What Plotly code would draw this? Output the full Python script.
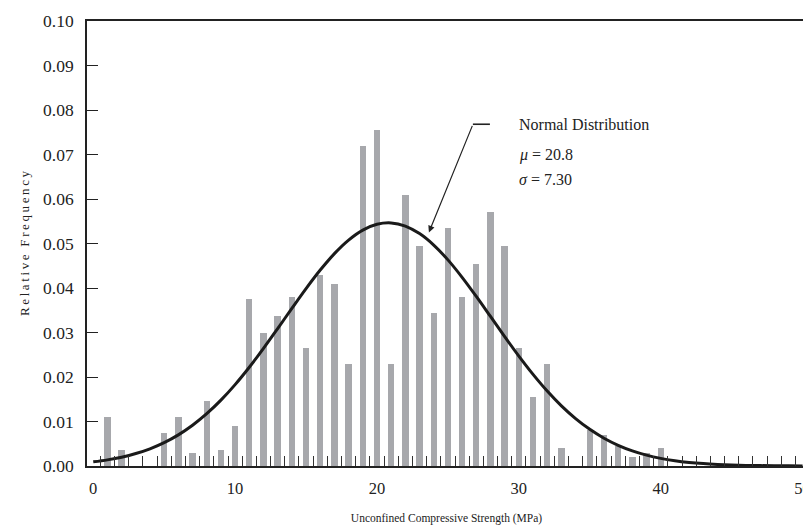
import plotly.graph_objects as go

# ---- data -----------------------------------------------------------------
strength_mpa = list(range(0, 51))  # bin centres (MPa)
rel_freq = [
    0.0, 0.011, 0.0037, 0.0, 0.0, 0.0074, 0.011, 0.003, 0.0147, 0.0037,
    0.009, 0.0375, 0.030, 0.0338, 0.038, 0.0265, 0.043, 0.041, 0.023, 0.0718,
    0.0755, 0.023, 0.061, 0.0495, 0.0344, 0.0535, 0.038, 0.0453, 0.057, 0.0495,
    0.0265, 0.0156, 0.023, 0.004, 0.0, 0.008, 0.007, 0.0045, 0.002, 0.003,
    0.004, 0.0, 0.0, 0.0, 0.0, 0.0, 0.0, 0.0, 0.0, 0.0, 0.0,
]
# normal-distribution curve (mu = 20.8, sigma = 7.30)
normal_curve = [
    0.00094, 0.00138, 0.00198, 0.00280, 0.00387, 0.00525, 0.00700, 0.00916,
    0.01175, 0.01480, 0.01829, 0.02219, 0.02643, 0.03088, 0.03541, 0.03986,
    0.04403, 0.04773, 0.05077, 0.05302, 0.05432, 0.05463, 0.05392, 0.05222,
    0.04964, 0.04632, 0.04240, 0.03810, 0.03360, 0.02908, 0.02470, 0.02059,
    0.01684, 0.01352, 0.01066, 0.00824, 0.00625, 0.00466, 0.00340, 0.00244,
    0.00172, 0.00119, 0.00081, 0.00054, 0.00035, 0.00022, 0.00014, 0.00009,
    0.00005, 0.00003, 0.00002,
]
x_tick_vals = [0, 10, 20, 30, 40, 50]
y_tick_vals = [0.00, 0.01, 0.02, 0.03, 0.04, 0.05, 0.06, 0.07, 0.08, 0.09, 0.10]
bin_edges = [i + 0.5 for i in range(0, 50)]

FONT = "Liberation Serif"
TXT = "#222222"
TS = "\u2009"  # thin space used for the letter-spaced y title
y_title = TS.join("Relative") + TS * 3 + TS.join("Frequency")

fig = go.Figure()
fig.add_trace(go.Bar(
    x=strength_mpa, y=rel_freq, width=0.45,
    marker=dict(color="#a7a8ac", line=dict(width=0)),
    showlegend=False, hoverinfo="x+y",
))
fig.add_trace(go.Scatter(
    x=strength_mpa, y=normal_curve, mode="lines",
    line=dict(color="#1a1a1a", width=3, shape="spline"),
    showlegend=False,
))

# the page body adds an 8px offset; margins compensate for it
fig.update_layout(
    width=811, height=531,
    margin=dict(l=79, r=13, t=13, b=73),
    paper_bgcolor="white", plot_bgcolor="white",
    font=dict(family=FONT, color=TXT, size=14),
    bargap=0,
)
fig.update_xaxes(
    range=[-0.44, 50.24], automargin=False,
    tickmode="array", tickvals=x_tick_vals,
    ticks="", showgrid=False, zeroline=False, ticklabelstandoff=6,
    showline=True, linecolor="#222222", linewidth=1.6, mirror=True,
    tickfont=dict(family=FONT, size=16.5, color=TXT),
    minor=dict(tickmode="array", tickvals=bin_edges, ticks="inside",
               ticklen=10, tickwidth=1.4, tickcolor="#333333", showgrid=False),
    title=dict(text="Unconfined Compressive Strength (MPa)",
               font=dict(family=FONT, size=11.5, color=TXT), standoff=17),
)
fig.update_yaxes(
    range=[0, 0.10], automargin=False,
    tickmode="array", tickvals=y_tick_vals, tickformat=".2f",
    ticks="inside", ticklen=11, tickwidth=1.4, tickcolor="#222222",
    ticklabelstandoff=8,
    showgrid=False, zeroline=False,
    showline=True, linecolor="#222222", linewidth=1.6, mirror=True,
    tickfont=dict(family=FONT, size=17.5, color=TXT),
    title=dict(text=y_title,
               font=dict(family=FONT, size=13, color=TXT), standoff=11),
)

# annotation: arrow + label
fig.add_annotation(
    x=23.66, y=0.0525, xref="x", yref="y",
    ax=44, ay=-108, axref="pixel", ayref="pixel",
    text="", showarrow=True, arrowhead=2, arrowsize=1.1,
    arrowwidth=1.2, arrowcolor="#222222",
)
fig.add_shape(type="line", x0=26.76, x1=27.96, y0=0.0768, y1=0.0768,
              xref="x", yref="y", line=dict(color="#222222", width=1.6))
for txt, yy in [("Normal Distribution", 0.0768),
                ("<i>μ</i> = 20.8", 0.0698),
                ("<i>σ</i> = 7.30", 0.0644)]:
    fig.add_annotation(x=29.84, y=yy, xref="x", yref="y", text=txt,
                       showarrow=False, xanchor="left", yanchor="middle",
                       font=dict(family=FONT, size=16, color=TXT))

fig.write_html("out.html")
